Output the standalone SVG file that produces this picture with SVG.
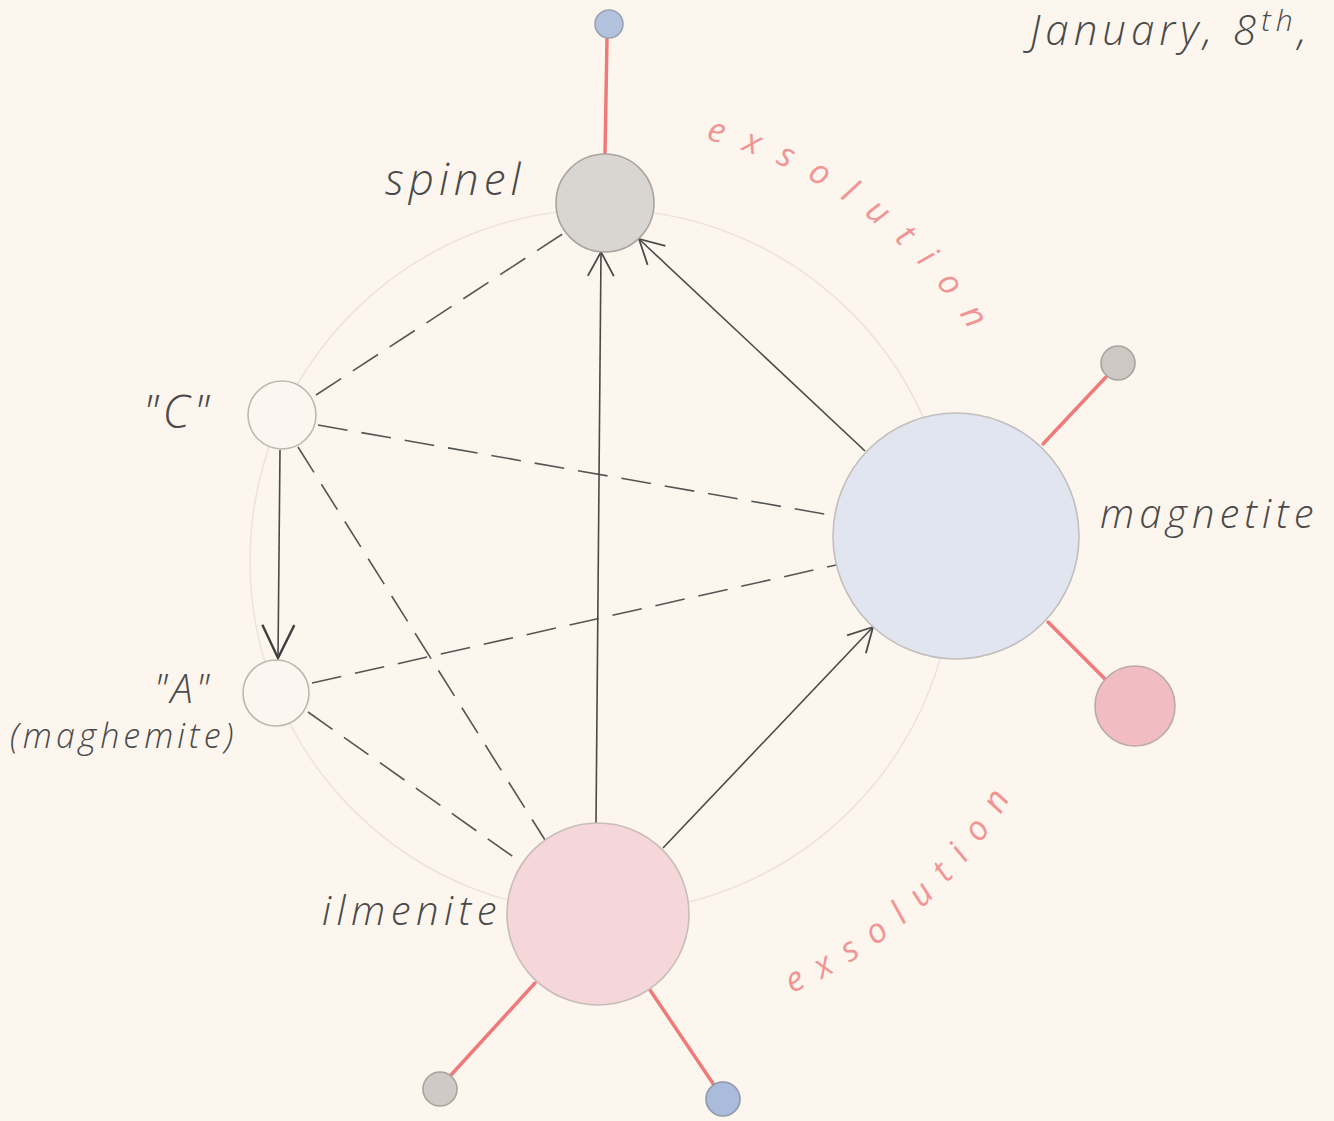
<svg xmlns="http://www.w3.org/2000/svg" width="1334" height="1121" viewBox="0 0 1334 1121">
<style>
.lbl{font-family:"Open Sans","Liberation Sans",sans-serif;font-style:italic;font-weight:300;fill:#4a4a4a}
.exs{font-family:"Open Sans","Liberation Sans",sans-serif;font-style:italic;font-weight:400;fill:#f29494;font-size:34px}
.dash{fill:none;stroke:#555;stroke-width:1.6;stroke-dasharray:30 14}
.solid{fill:none;stroke:#4a4a4a;stroke-width:1.6;marker-end:url(#arr)}
.red{stroke:#ef7a7a;stroke-width:3.5;stroke-linecap:round}
.node{stroke-width:1.6}
</style>
<defs>
<marker id="arr" markerUnits="userSpaceOnUse" markerWidth="30" markerHeight="34" viewBox="0 0 30 34" refX="27" refY="17" orient="auto">
<path d="M3,4 L27,17 L3,30" fill="none" stroke="#4a4a4a" stroke-width="1.8"/>
</marker>
<marker id="arrBig" markerUnits="userSpaceOnUse" markerWidth="40" markerHeight="40" viewBox="0 0 40 40" refX="37" refY="20" orient="auto">
<path d="M4,4 L37,20 L4,36" fill="none" stroke="#3f3f3f" stroke-width="2.4"/>
</marker>
<path id="arcTop" d="M699.6,138.1 A434,434 0 0 1 985.2,357.2"/>
<path id="arcBot" d="M778.8,998.6 A472,472 0 0 0 1022.6,775.3"/>
</defs>
<rect width="1334" height="1121" fill="#fdf6ee"/>
<circle cx="602" cy="561" r="352" fill="none" stroke="#ebe3dc" stroke-width="1.5"/>

<g id="exsolution-lines">
<line class="red" x1="607" y1="38" x2="605" y2="154"/>
<line class="red" x1="1043" y1="444" x2="1106" y2="377"/>
<line class="red" x1="1048" y1="622" x2="1106" y2="680"/>
<line class="red" x1="535" y1="983" x2="451" y2="1075"/>
<line class="red" x1="650" y1="990" x2="714" y2="1085"/>
</g>

<g id="connectors">
<line class="dash" x1="316" y1="395" x2="564" y2="233"/>
<line class="dash" x1="318" y1="425" x2="830" y2="515"/>
<line class="dash" x1="298" y1="447" x2="545" y2="840"/>
<line class="dash" x1="312" y1="683" x2="836" y2="565"/>
<line class="dash" x1="308" y1="712" x2="515" y2="858"/>
<line class="solid" x1="596" y1="824" x2="601" y2="252"/>
<line class="solid" x1="865" y1="451" x2="639" y2="239"/>
<line class="solid" x1="663" y1="848" x2="873" y2="627"/>
<line class="solid" x1="280" y1="450" x2="278" y2="658" stroke-width="2" style="marker-end:url(#arrBig)"/>
</g>

<g id="spinel">
<circle class="node" cx="605" cy="203" r="49" fill="#d9d5d1" stroke="#a9a4a0"/>
<text class="lbl" x="385" y="195" font-size="44" letter-spacing="5">spinel</text>
</g>
<g id="spinel-top">
<circle class="node" cx="609" cy="24" r="14" fill="#b3c3de" stroke="#9aa3b3"/>
</g>
<g id="magnetite">
<circle class="node" cx="956" cy="536" r="123" fill="#e1e5f0" stroke="#c2bebd"/>
<text class="lbl" x="1100" y="528" font-size="40" letter-spacing="5">magnetite</text>
</g>
<g id="magnetite-gray">
<circle class="node" cx="1118" cy="363" r="17" fill="#cdc8c4" stroke="#a9a4a0"/>
</g>
<g id="magnetite-pink">
<circle class="node" cx="1135" cy="706" r="40" fill="#f2bcc3" stroke="#b9a9aa"/>
</g>
<g id="C">
<circle class="node" cx="282" cy="415" r="34" fill="#fcf6f0" stroke="#bdb7b2"/>
<text class="lbl" x="178" y="428" font-size="46" text-anchor="middle" letter-spacing="4">"C"</text>
</g>
<g id="A">
<circle class="node" cx="276" cy="693" r="33" fill="#fcf6f0" stroke="#bdb7b2"/>
<text class="lbl" x="183" y="703" font-size="40" text-anchor="middle" letter-spacing="3">"A"</text>
<text class="lbl" x="10" y="748" font-size="34" letter-spacing="4">(maghemite)</text>
</g>
<g id="ilmenite">
<circle class="node" cx="598" cy="914" r="91" fill="#f6d7d9" stroke="#c8bcbc"/>
<text class="lbl" x="322" y="925" font-size="40" letter-spacing="5.5">ilmenite</text>
</g>
<g id="ilmenite-gray">
<circle class="node" cx="440" cy="1089" r="17" fill="#cfcac6" stroke="#a9a4a0"/>
</g>
<g id="ilmenite-blue">
<circle class="node" cx="723" cy="1099" r="17" fill="#a9bcdc" stroke="#8f98aa"/>
</g>

<g id="labels">
<text class="exs" letter-spacing="20"><textPath href="#arcTop" startOffset="6">exsolution</textPath></text>
<text class="exs" letter-spacing="16"><textPath href="#arcBot" startOffset="14">exsolution</textPath></text>
<text class="lbl" x="1030" y="45" font-size="42" letter-spacing="5">January, 8<tspan dy="-14" font-size="30">th</tspan><tspan dy="14">,</tspan></text>
</g>
</svg>
